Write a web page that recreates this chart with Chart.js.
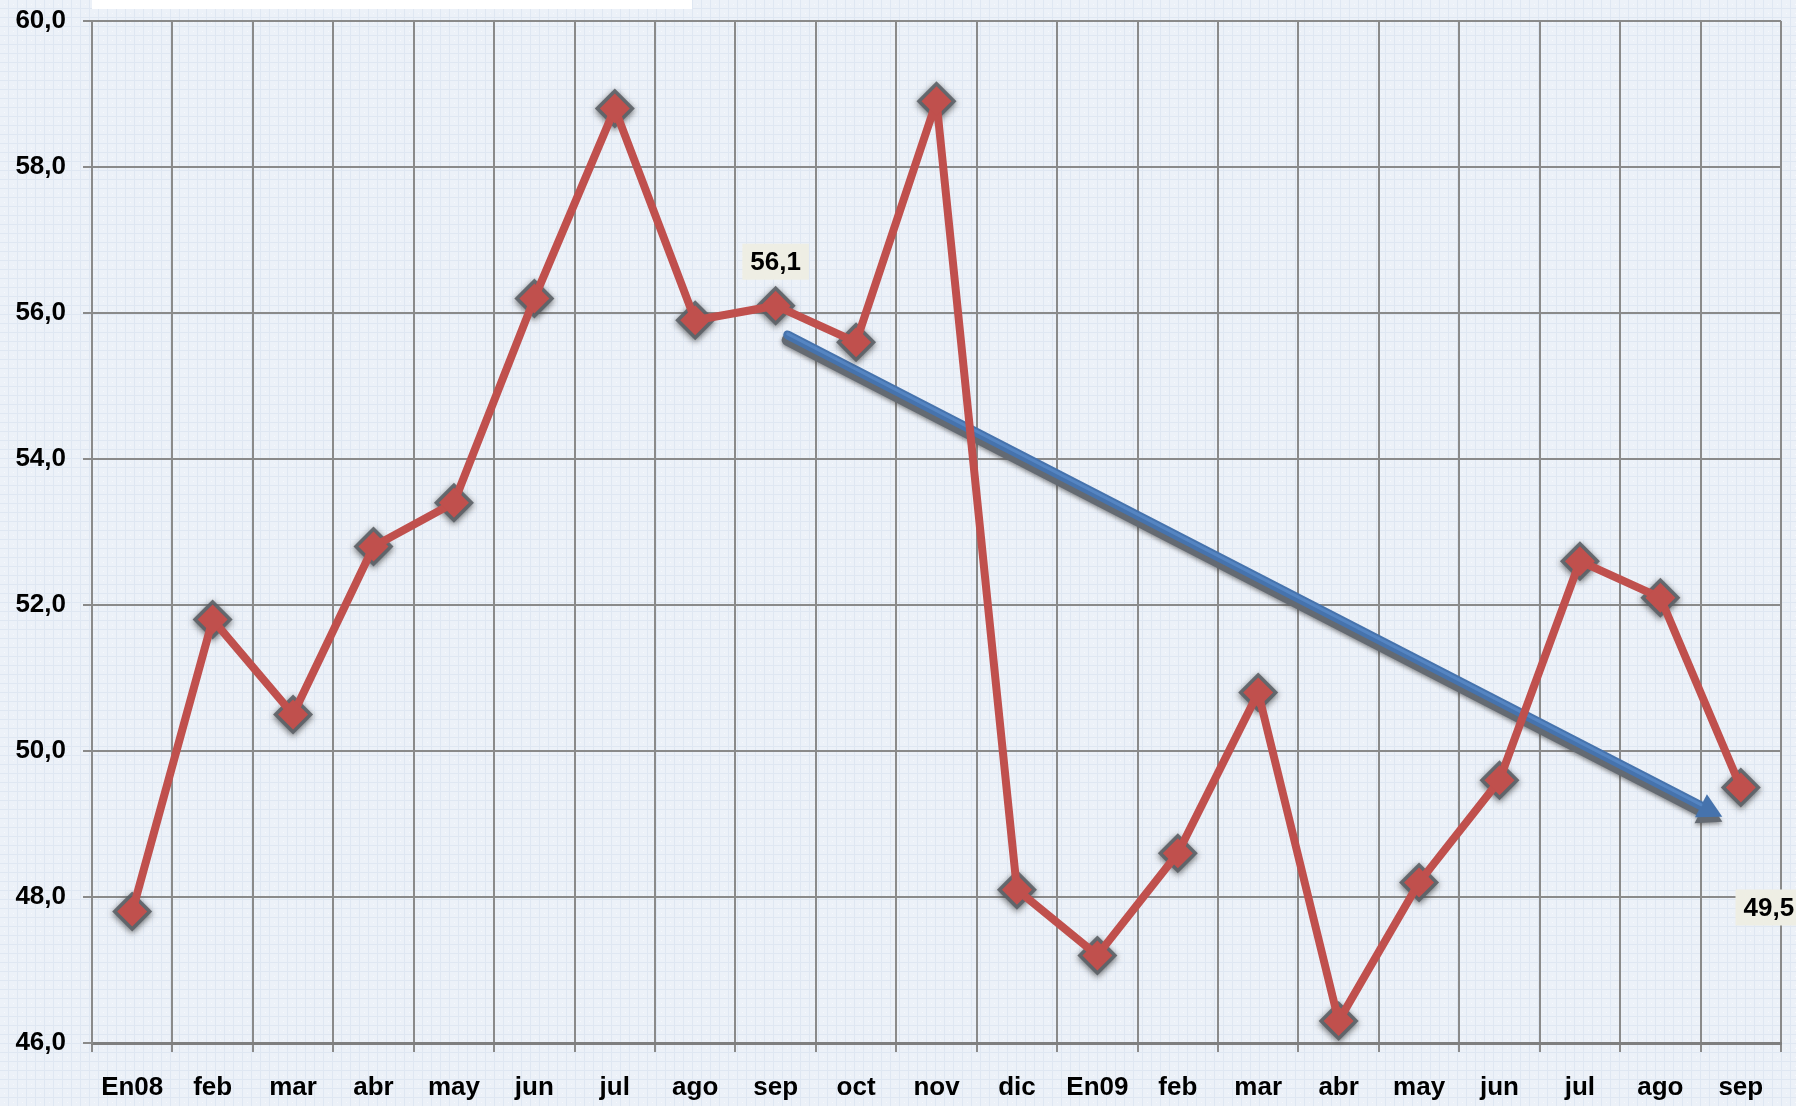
<!DOCTYPE html>
<html>
<head>
<meta charset="utf-8">
<script src="https://cdn.jsdelivr.net/npm/chart.js@4.4.0/dist/chart.umd.min.js"></script>
<style>
    html, body { margin: 0; padding: 0; background: #eaf0f8; }
    #wrap { width: 1796px; height: 1106px; }
</style>
</head>
<body>
<div id="wrap"><canvas id="chart" width="1796" height="1106"></canvas></div>
<script>
// === DATOS ===
const meses = ['En08', 'feb', 'mar', 'abr', 'may', 'jun', 'jul', 'ago', 'sep', 'oct', 'nov', 'dic',
    'En09', 'feb', 'mar', 'abr', 'may', 'jun', 'jul', 'ago', 'sep'];
const valores = [47.8, 51.8, 50.5, 52.8, 53.4, 56.2, 58.8, 55.9, 56.1, 55.6, 58.9, 48.1,
    47.2, 48.6, 50.8, 46.3, 48.2, 49.6, 52.6, 52.1, 49.5];
const yMin = 46;
const yMax = 60;
const yPaso = 2;
// etiquetas de datos visibles (indice del mes)
const etiquetasIdx = [8, 20];
// flecha de tendencia en coordenadas de datos (indice de mes, valor)
const flechaX = [8.15, 19.77];
const flechaY = [55.7, 49.1];

const FUENTE = "'Liberation Sans Narrow', 'Liberation Sans', Arial, sans-serif";
const ROJO = '#c0504d';
const GRIS = '#8a8a8a';

const formatoNum = (v) => v.toFixed(1).replace('.', ',');

// === PLUGINS ===
const fondoPlugin = {
    id: 'fondo',
    beforeDraw(chart) {
        const ctx = chart.ctx;
        const p = document.createElement('canvas');
        p.width = 9; p.height = 9;
        const pc = p.getContext('2d');
        pc.fillStyle = '#ecf1f8';
        pc.fillRect(0, 0, 9, 9);
        pc.fillStyle = '#dfe7f2';
        pc.fillRect(8, 0, 1, 9);
        pc.fillRect(0, 8, 9, 1);
        pc.fillStyle = '#f6f8fc';
        pc.fillRect(4, 4, 1, 1);
        ctx.save();
        ctx.fillStyle = ctx.createPattern(p, 'repeat');
        ctx.fillRect(0, 0, chart.width, chart.height);
        // recuadro del titulo (cortado arriba)
        ctx.fillStyle = '#ffffff';
        ctx.fillRect(chart.chartArea.left, 0, 600, 9);
        ctx.restore();
    }
};

const flechaPlugin = {
    id: 'flecha',
    beforeDatasetsDraw(chart) {
        const ctx = chart.ctx;
        const xs = chart.scales.x, ys = chart.scales.y;
        const x0 = xs.getPixelForValue(flechaX[0]), y0 = ys.getPixelForValue(flechaY[0]);
        const x1 = xs.getPixelForValue(flechaX[1]), y1 = ys.getPixelForValue(flechaY[1]);
        const ang = Math.atan2(y1 - y0, x1 - x0);
        const cabeza = 24;
        const xb = x1 - Math.cos(ang) * cabeza, yb = y1 - Math.sin(ang) * cabeza;

        const trazo = (dy, color, ancho, alas) => {
            ctx.strokeStyle = color;
            ctx.fillStyle = color;
            ctx.lineWidth = ancho;
            ctx.beginPath();
            ctx.moveTo(x0, y0 + dy);
            ctx.lineTo(xb, yb + dy);
            ctx.stroke();
            ctx.beginPath();
            ctx.moveTo(x1, y1 + dy);
            ctx.lineTo(xb + Math.cos(ang + Math.PI / 2) * alas, yb + dy + Math.sin(ang + Math.PI / 2) * alas);
            ctx.lineTo(xb + Math.cos(ang - Math.PI / 2) * alas, yb + dy + Math.sin(ang - Math.PI / 2) * alas);
            ctx.closePath();
            ctx.fill();
        };

        ctx.save();
        ctx.lineCap = 'round';
        ctx.lineJoin = 'round';
        ctx.shadowColor = 'rgba(70,70,70,0.6)';
        ctx.shadowBlur = 4;
        ctx.shadowOffsetY = 2;
        trazo(5, '#646a72', 12, 14);
        ctx.shadowColor = 'transparent';
        trazo(0, '#4673ad', 9, 13);
        trazo(-1, '#5585c2', 3, 0);
        ctx.restore();
    }
};

// halo gris alrededor de cada marcador (posiciones tomadas del dataset)
const haloPlugin = {
    id: 'halo',
    beforeDatasetsDraw(chart) {
        const ctx = chart.ctx;
        const meta = chart.getDatasetMeta(1);
        const r = 20;
        ctx.save();
        ctx.shadowColor = 'rgba(60,60,60,0.8)';
        ctx.shadowBlur = 6;
        ctx.shadowOffsetY = 2;
        ctx.fillStyle = 'rgba(92,96,102,0.9)';
        meta.data.forEach(pt => {
            ctx.beginPath();
            ctx.moveTo(pt.x - r, pt.y);
            ctx.lineTo(pt.x, pt.y - r);
            ctx.lineTo(pt.x + r, pt.y);
            ctx.lineTo(pt.x, pt.y + r);
            ctx.closePath();
            ctx.fill();
        });
        ctx.restore();
    }
};

const etiquetasPlugin = {
    id: 'etiquetas',
    afterDatasetsDraw(chart) {
        const ctx = chart.ctx;
        const meta = chart.getDatasetMeta(0);
        const desplaz = { 8: [0, -44], 20: [28, 120] };
        ctx.save();
        ctx.font = 'bold 26px ' + FUENTE;
        ctx.textAlign = 'center';
        ctx.textBaseline = 'middle';
        etiquetasIdx.forEach(i => {
            const pt = meta.data[i];
            const [dx, dy] = desplaz[i];
            const texto = formatoNum(valores[i]);
            const cx = pt.x + dx, cy = pt.y + dy;
            const w = ctx.measureText(texto).width + 16;
            ctx.fillStyle = '#eeeee4';
            ctx.fillRect(cx - w / 2, cy - 18, w, 36);
            ctx.fillStyle = '#000000';
            ctx.fillText(texto, cx, cy + 1);
        });
        ctx.restore();
    }
};

// === GRAFICO ===
new Chart(document.getElementById('chart'), {
    type: 'line',
    data: {
        labels: meses,
        datasets: [{
            // linea
            data: valores,
            borderColor: ROJO,
            borderWidth: 8,
            pointRadius: 0,
            tension: 0,
            borderJoinStyle: 'round',
            order: 2
        }, {
            // marcadores
            data: valores,
            showLine: false,
            pointStyle: 'rectRot',
            pointRadius: 15,
            pointBackgroundColor: ROJO,
            pointBorderWidth: 0,
            order: 1
        }]
    },
    options: {
        responsive: false,
        animation: false,
        layout: { padding: { top: 21, right: 14, left: 0, bottom: 0 } },
        plugins: {
            legend: { display: false },
            tooltip: { enabled: false }
        },
        scales: {
            x: {
                offset: true,
                grid: { offset: true, color: GRIS, lineWidth: 2, tickLength: 9, tickColor: GRIS },
                border: { color: '#7f7f7f', width: 3 },
                ticks: {
                    color: '#000',
                    padding: 20,
                    maxRotation: 0,
                    autoSkip: false,
                    font: { family: FUENTE, size: 26, weight: 'bold' }
                },
                afterFit: (scale) => {
                    scale.height = 63;
                    scale.paddingLeft = 0;
                    scale.paddingRight = 0;
                }
            },
            y: {
                min: yMin,
                max: yMax,
                grid: { color: GRIS, lineWidth: 2, tickLength: 9, tickColor: GRIS },
                border: { color: GRIS, width: 2 },
                ticks: {
                    stepSize: yPaso,
                    color: '#000',
                    padding: 17,
                    font: { family: FUENTE, size: 26, weight: 'bold' },
                    callback: (v) => formatoNum(v)
                },
                afterFit: (scale) => {
                    scale.width = 92;
                    scale.paddingTop = 0;
                    scale.paddingBottom = 0;
                }
            }
        }
    },
    plugins: [fondoPlugin, flechaPlugin, haloPlugin, etiquetasPlugin]
});
</script>
</body>
</html>
